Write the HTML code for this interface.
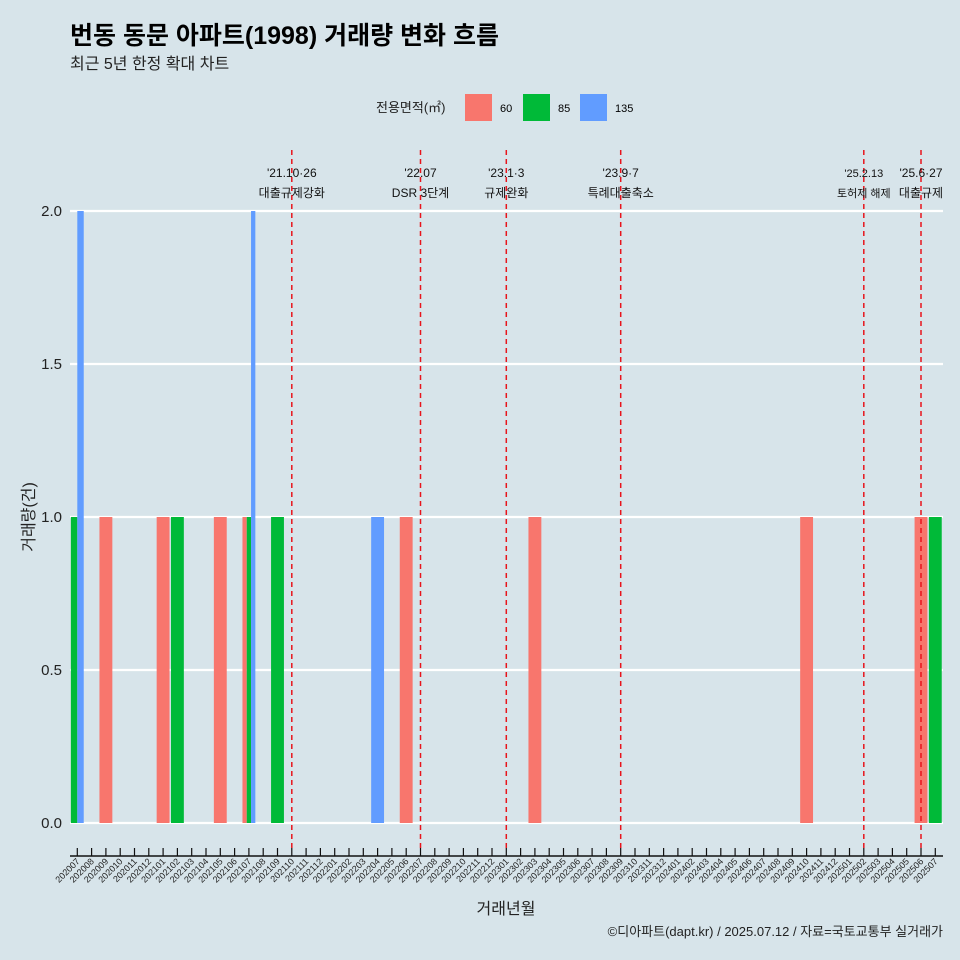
<!DOCTYPE html><html><head><meta charset="utf-8"><style>
body{margin:0;background:#d7e4ea;}
svg{display:block;font-family:"Liberation Sans","Noto Sans CJK KR",sans-serif;}
</style></head><body>
<svg width="960" height="960" viewBox="0 0 960 960">
<rect width="960" height="960" fill="#d7e4ea"/>
<text x="70" y="44" font-size="25" font-weight="bold" fill="#000">번동 동문 아파트(1998) 거래량 변화 흐름</text>
<text x="70" y="69" font-size="16" fill="#222">최근 5년 한정 확대 차트</text>
<g>
<text x="376" y="112" font-size="13" fill="#222">전용면적(㎡)</text>
<rect x="465" y="94" width="27" height="27" fill="#f8766d"/>
<text x="500" y="112" font-size="11">60</text>
<rect x="523" y="94" width="27" height="27" fill="#00ba38"/>
<text x="558" y="112" font-size="11">85</text>
<rect x="580" y="94" width="27" height="27" fill="#619cff"/>
<text x="615" y="112" font-size="11">135</text>
</g>
<g id="grid"></g><g id="bars"></g><g id="vl"></g><g id="axis"></g>
<text transform="translate(34,517) rotate(-90)" text-anchor="middle" font-size="16" fill="#222">거래량(건)</text>
<text x="506" y="914" text-anchor="middle" font-size="16" fill="#222">거래년월</text>
<text x="943" y="936" text-anchor="end" font-size="13" fill="#222">©디아파트(dapt.kr) / 2025.07.12 / 자료=국토교통부 실거래가</text>
</svg>
<script>
const months=[];for(let y=2020;y<=2025;y++)for(let m=1;m<=12;m++){const k=y*100+m;if(k>=202007&&k<=202507)months.push(String(k));}
const yTicks=[0,0.5,1,1.5,2];
const yTickLabels=["0.0","0.5","1.0","1.5","2.0"];
const barMonths=["202007","202007","202009","202101","202102","202105","202107","202107","202107","202109","202204","202206","202303","202410","202506","202507"];
const barSizes=["85","135","60","60","85","60","60","85","135","85","135","60","60","60","60","85"];
const barValues=[1,2,1,1,1,1,1,1,2,1,1,1,1,1,1,1];
const eventMonths=["202110","202207","202301","202309","202502","202506"];
const eventLine1=["'21.10·26","'22.07","'23.1·3","'23.9·7","'25.2.13","'25.6·27"];
const eventLine2=["대출규제강화","DSR 3단계","규제완화","특례대출축소","토허제 해제","대출규제"];
const colors={"60":"#f8766d","85":"#00ba38","135":"#619cff"};
const NS="http://www.w3.org/2000/svg";
const x0=77.3,step=14.3,yBase=823,yScale=306;
const X=i=>x0+i*step, Y=v=>yBase-v*yScale;
function mk(t,a,p){const e=document.createElementNS(NS,t);for(const k in a)e.setAttribute(k,a[k]);document.getElementById(p).appendChild(e);return e;}
yTicks.forEach((v,i)=>{
 const l=mk('line',{x1:70,x2:943,y1:Y(v),y2:Y(v),stroke:'#fff','stroke-width':2.2},'grid');
 
 
 const t=mk('text',{x:62,y:Y(v)+5,'text-anchor':'end','font-size':15,fill:'#222'},'grid');t.textContent=yTickLabels[i];
 
 
});
const groups={};barMonths.forEach((m,i)=>{(groups[m]=groups[m]||[]).push(i);});
const W=step*0.9;
for(const m in groups){const idx=groups[m];const n=idx.length;const bw=W/n;const cx=X(months.indexOf(m));
 idx.forEach((bi,j)=>{const v=barValues[bi];
  const r=mk('rect',{x:cx-W/2+j*bw,y:Y(v),width:bw,height:Y(0)-Y(v),fill:colors[barSizes[bi]]},'bars');
  
  
 });}
eventMonths.forEach((m,i)=>{const x=X(months.indexOf(m));
 const l=mk('line',{x1:x,x2:x,y1:150,y2:849,stroke:'#e8141c','stroke-width':1.5,'stroke-dasharray':'5,4'},'vl');
 
 
 const fs=i==4?11:12;
 const t1=mk('text',{x:x,y:177,'text-anchor':'middle','font-size':fs,fill:'#111'},'vl');t1.textContent=eventLine1[i];
 
 
 const t2=mk('text',{x:x,y:197,'text-anchor':'middle','font-size':fs,fill:'#111'},'vl');t2.textContent=eventLine2[i];
 
 
});
const ax=mk('line',{x1:70,x2:943,y1:856,y2:856,stroke:'#111','stroke-width':1.5},'axis');


months.forEach((m,i)=>{const x=X(i);
 const tk=mk('line',{x1:x,x2:x,y1:848,y2:856,stroke:'#111','stroke-width':1.2},'axis');
 
 
 const t=mk('text',{transform:`translate(${x+3},${862}) rotate(-45)`,'text-anchor':'end','font-size':9,fill:'#222'},'axis');t.textContent=m;
 
 
});
</script>
</body></html>
